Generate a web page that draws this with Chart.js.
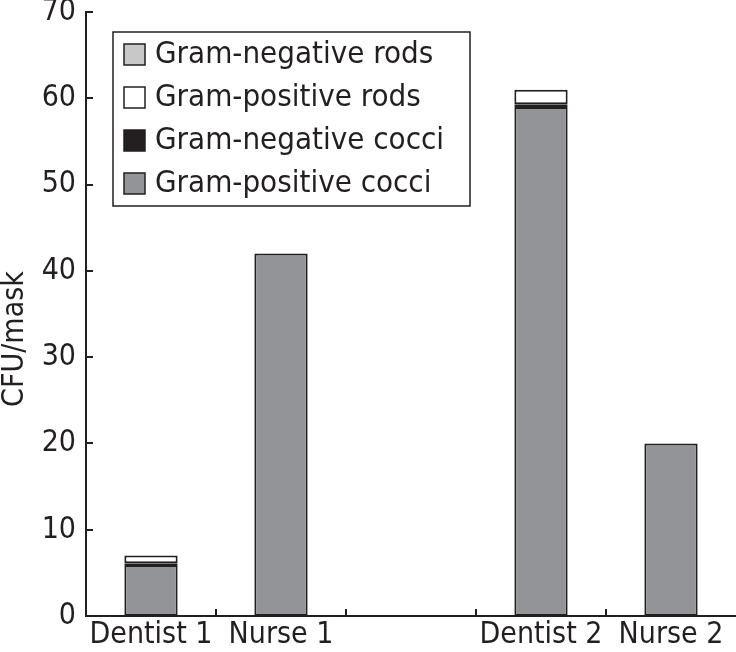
<!DOCTYPE html>
<html><head><meta charset="utf-8">
<script src="https://cdn.jsdelivr.net/npm/chart.js@4/dist/chart.umd.min.js"></script>
<style>html,body{margin:0;padding:0;background:#fff}#w{width:736px;height:652px}</style>
</head><body><div id="w"><canvas id="c" width="736" height="652"></canvas></div>
<script>
const categories = ['Dentist 1', 'Nurse 1', '', 'Dentist 2', 'Nurse 2'];
const grampositiveCocci = [5.9, 42, null, 59, 20];
const gramnegativeCocci = [0.2, null, null, 0.3, null];
const grampositiveRods  = [0.9, null, null, 1.7, null];
const gramnegativeRods  = [null, null, null, null, null];
const yTicks = [0, 10, 20, 30, 40, 50, 60, 70];
const yTitle = 'CFU/mask';

const FONT = '"DejaVu Sans Condensed", "DejaVu Sans", sans-serif';
const INK = '#231f20';

const ds = (label, data, color) => ({label, data, backgroundColor: color, borderColor: INK, borderWidth: 2, borderSkipped: false, barPercentage: 0.41, categoryPercentage: 1});

const decor = {
  id: 'decor',
  afterDraw(chart) {
    const ctx = chart.ctx, a = chart.chartArea, xs = chart.scales.x, ys = chart.scales.y;
    ctx.save();
    ctx.strokeStyle = INK; ctx.lineWidth = 2;
    yTicks.forEach(v => { const y = Math.round(ys.getPixelForValue(v)); ctx.beginPath(); ctx.moveTo(a.left, y); ctx.lineTo(a.left + 7, y); ctx.stroke(); });
    for (let i = 0; i < categories.length - 1; i++) {
      const x = Math.round((xs.getPixelForValue(i) + xs.getPixelForValue(i + 1)) / 2);
      ctx.beginPath(); ctx.moveTo(x, a.bottom); ctx.lineTo(x, a.bottom - 7); ctx.stroke();
    }
    ctx.fillStyle = INK; ctx.font = '30px ' + FONT;
    ctx.translate(15, 339); ctx.rotate(-Math.PI / 2);
    ctx.textAlign = 'center'; ctx.textBaseline = 'middle';
    ctx.fillText(yTitle, 0, 0);
    ctx.restore();
    ctx.save();
    const lx = 113, ly = 32, lw = 357, lh = 174;
    ctx.fillStyle = '#fff'; ctx.fillRect(lx, ly, lw, lh);
    ctx.strokeStyle = INK; ctx.lineWidth = 1.5; ctx.strokeRect(lx, ly, lw, lh);
    const items = chart.data.datasets.slice().reverse();
    ctx.font = '31px ' + FONT; ctx.textBaseline = 'middle'; ctx.textAlign = 'left';
    items.forEach((d, i) => {
      const cy = 54 + i * 43;
      ctx.fillStyle = d.backgroundColor; ctx.fillRect(124, cy - 10, 21, 21);
      ctx.strokeStyle = INK; ctx.lineWidth = 1.5; ctx.strokeRect(124, cy - 10, 21, 21);
      ctx.fillStyle = INK; ctx.fillText(d.label, 155, cy + 1);
    });
    ctx.restore();
  }
};

new Chart(document.getElementById('c'), {
  type: 'bar',
  data: {
    labels: categories,
    datasets: [
      ds('Gram-positive cocci', grampositiveCocci, '#929497'),
      ds('Gram-negative cocci', gramnegativeCocci, '#231f20'),
      ds('Gram-positive rods', grampositiveRods, '#ffffff'),
      ds('Gram-negative rods', gramnegativeRods, '#c8c8c8')
    ]
  },
  options: {
    responsive: false, animation: false, devicePixelRatio: 1,
    layout: {padding: {top: 12, right: 0, left: 0, bottom: 0}},
    plugins: {legend: {display: false}, tooltip: {enabled: false}},
    scales: {
      x: {
        stacked: true, offset: true,
        grid: {display: false, drawTicks: false},
        border: {display: true, color: INK, width: 2},
        ticks: {color: INK, font: {family: FONT, size: 30}, padding: 1, maxRotation: 0, autoSkip: false},
        afterFit(s) { s.height = 36; s.paddingLeft = 0; s.paddingRight = 0; }
      },
      y: {
        stacked: true, min: 0, max: 70,
        grid: {display: false, drawTicks: false},
        border: {display: true, color: INK, width: 2},
        ticks: {color: INK, font: {family: FONT, size: 30}, stepSize: 10, padding: 10},
        afterFit(s) { s.width = 86; s.paddingTop = 0; s.paddingBottom = 0; }
      }
    }
  },
  plugins: [decor]
});
</script></body></html>
